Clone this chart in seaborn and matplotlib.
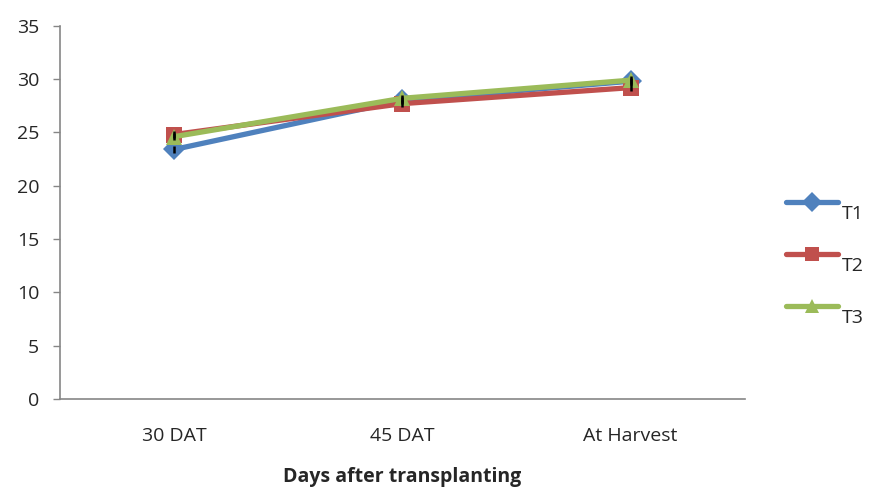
import matplotlib
matplotlib.use("Agg")
import matplotlib.pyplot as plt
import seaborn as sns
import pandas as pd

stages = ["30 DAT", "45 DAT", "At Harvest"]
treatments = ["T1", "T2", "T3"]
t1 = [23.4, 28.0, 29.8]
t2 = [24.8, 27.7, 29.2]
t3 = [24.6, 28.2, 29.9]
err = [0.35, 0.35, 0.35]
y_ticks = [0, 5, 10, 15, 20, 25, 30, 35]
colors = ["#4F81BD", "#C0504D", "#9BBB59"]
markers = ["D", "s", "^"]

sns.set_theme(style="white")
plt.rcParams["font.family"] = ["Open Sans", "DejaVu Sans"]

df = pd.DataFrame({
    "stage": stages * 3,
    "value": t1 + t2 + t3,
    "treatment": [t for t in treatments for _ in stages],
})

fig = plt.figure(figsize=(8.7, 4.87), dpi=100)
ax = fig.add_axes([0.069, 0.181, 0.787, 0.766])

sns.lineplot(data=df, x="stage", y="value", hue="treatment", style="treatment",
             markers=markers, dashes=False, palette=colors, linewidth=3.8,
             markersize=11.5, markeredgewidth=0, ax=ax, sort=False)

for vals in (t1, t2, t3):
    ax.errorbar(stages, vals, yerr=err, fmt="none", ecolor="black",
                elinewidth=1.8, capsize=0, zorder=5)

ax.set_ylim(0, 35)
ax.set_yticks(y_ticks)
ax.set_xlim(-0.5, 2.5)
ax.set_ylabel("")
ax.set_xlabel("Days after transplanting", fontsize=14, fontweight="bold", labelpad=16)
ax.tick_params(axis="y", labelsize=14, length=5, width=1, color="#868686",
               direction="out", left=True, pad=10)
ax.tick_params(axis="x", labelsize=14, length=0, pad=20)
for s in ["top", "right"]:
    ax.spines[s].set_visible(False)
for s in ["left", "bottom"]:
    ax.spines[s].set_color("#868686")
    ax.spines[s].set_linewidth(1.2)

h, l = ax.get_legend_handles_labels()
leg = ax.legend(h, l, loc="center left", bbox_to_anchor=(0.903, 0.475),
                bbox_transform=fig.transFigure, frameon=False, fontsize=14,
                handlelength=2.7, handletextpad=0.2, labelspacing=1.75,
                borderpad=0, borderaxespad=0)
for line in leg.get_lines():
    line.set_markersize(10.5)
for txt in leg.get_texts():
    txt.set_y(-10)

fig.savefig("out.png", dpi=100)
